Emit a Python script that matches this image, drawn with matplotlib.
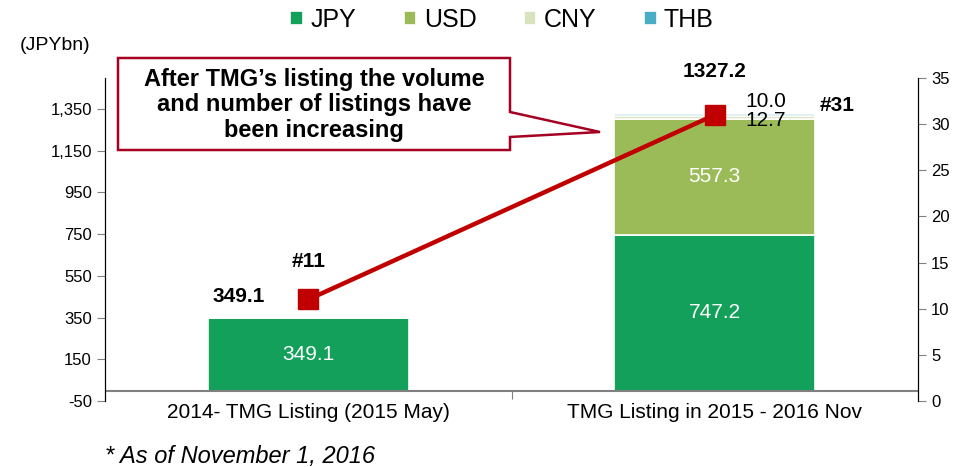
import matplotlib.pyplot as plt
from matplotlib.patches import Polygon
from matplotlib.ticker import FuncFormatter

plt.rcParams['font.family'] = ['Liberation Sans', 'DejaVu Sans']

# data
categories = ["2014- TMG Listing (2015 May)", "TMG Listing in 2015 - 2016 Nov"]
jpy = [349.1, 747.2]
usd = [0.0, 557.3]
cny = [0.0, 12.7]
thb = [0.0, 10.0]
totals = [349.1, 1327.2]
listings = [11, 31]

colors = {"JPY": "#13A05A", "USD": "#9BBB59", "CNY": "#D7E4BD", "THB": "#4BACC6"}
red = "#C00000"

W, H = 975, 467
fig = plt.figure(figsize=(9.75, 4.67), dpi=100)


def fx(px):
    return px / W


def fy(py):
    return 1 - py / H


ax = fig.add_axes([fx(105), fy(401), fx(918) - fx(105), fy(78) - fy(401)])
ax2 = ax.twinx()

x = [0, 1]
bw = 0.494
bottom = [0.0, 0.0]
for name, vals in [("JPY", jpy), ("USD", usd), ("CNY", cny), ("THB", thb)]:
    ax.bar(x, vals, bw, bottom=bottom, color=colors[name], edgecolor="white",
           linewidth=1.2, label=name, zorder=2)
    bottom = [b + v for b, v in zip(bottom, vals)]

ax.set_xlim(-0.5, 1.5)
ax.set_ylim(-50, 1499)
ax.set_yticks(range(-50, 1351, 200))
ax.yaxis.set_major_formatter(FuncFormatter(lambda v, p: f"{int(v):,}"))
ax.spines["bottom"].set_position(("data", 0))
ax.spines["bottom"].set_bounds(-0.5, 1.5)
ax.set_xticks([0.5])
ax.set_xticklabels([])
ax.tick_params(axis="x", length=6, color="#808080")
for i, c in enumerate(categories):
    ax.text(i, -0.037, c, transform=ax.get_xaxis_transform(), ha="center",
            va="center", fontsize=15)
ax.tick_params(axis="y", labelsize=12, length=6, color="#808080")
ax2.tick_params(axis="y", labelsize=12, length=6, color="#808080")

ax2.set_ylim(0, 35)
ax2.set_yticks(range(0, 36, 5))
ax2.plot(x, listings, color=red, lw=3.2, marker="s", markersize=14, zorder=5)

for a in (ax, ax2):
    a.spines["top"].set_visible(False)
    a.spines["left"].set_color("black")
    a.spines["right"].set_color("black")
ax.spines["bottom"].set_color("#808080")
ax.spines["bottom"].set_linewidth(1.5)
ax.spines["bottom"].set_capstyle("butt")
ax2.spines["bottom"].set_visible(False)

# value labels inside bars
ax.text(0, jpy[0] / 2, f"{jpy[0]:.1f}", color="white", ha="center", va="center", fontsize=15)
ax.text(1, jpy[1] / 2, f"{jpy[1]:.1f}", color="white", ha="center", va="center", fontsize=15)
ax.text(1, jpy[1] + usd[1] / 2, f"{usd[1]:.1f}", color="white", ha="center", va="center", fontsize=15)
ax.text(1.075, totals[1] - 30, f"{cny[1]:.1f}", ha="left", va="center", fontsize=15)
ax.text(1.075, totals[1] + 60, f"{thb[1]:.1f}", ha="left", va="center", fontsize=15)

# totals and listing counts
ax.text(-0.17, totals[0] + 100, f"{totals[0]:.1f}", ha="center", va="center", fontsize=15, fontweight="bold")
ax.text(1, totals[1] + 205, f"{totals[1]:.1f}", ha="center", va="center", fontsize=15, fontweight="bold")
ax2.text(0, listings[0] + 4.1, f"#{listings[0]}", ha="center", va="center", fontsize=15, fontweight="bold")
ax2.text(1.3, listings[1] + 1.0, f"#{listings[1]}", ha="center", va="center", fontsize=15, fontweight="bold")

# legend
fig.legend(loc="center", bbox_to_anchor=(0.515, fy(20)), ncol=4, frameon=False,
           fontsize=18, handlelength=0.5, handleheight=0.5, columnspacing=1.9,
           handletextpad=0.3)

fig.text(fx(20), fy(45), "(JPYbn)", fontsize=14, va="center")
fig.text(fx(105), fy(456), "* As of November 1, 2016", fontsize=17, style="italic", va="center")

# callout box
pts = [(118, 58), (510, 58), (510, 112), (600, 132), (510, 137), (510, 150), (118, 150)]
fig.patches.append(Polygon([(fx(a), fy(b)) for a, b in pts], closed=True,
                           transform=fig.transFigure, facecolor="white",
                           edgecolor="#A50021", lw=1.8, zorder=10))
fig.text(fx(314), fy(105), "After TMG\u2019s listing the volume\nand number of listings have\nbeen increasing",
         ha="center", va="center", fontsize=17, fontweight="bold", linespacing=1.15, zorder=11)

fig.savefig("out.png", dpi=100)
